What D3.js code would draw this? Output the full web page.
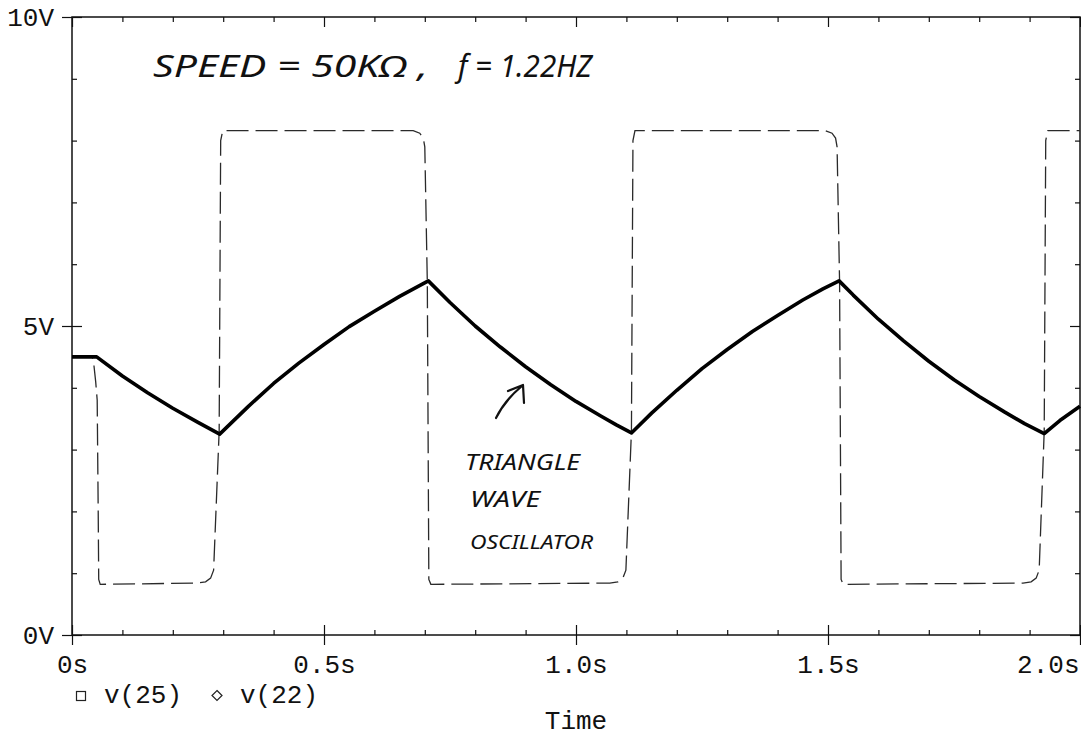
<!DOCTYPE html>
<html>
<head>
<meta charset="utf-8">
<script src="https://cdn.jsdelivr.net/npm/d3@7"></script>
<style>
    body { margin: 0; background: #fff; }
    svg { display: block; }
    .tick text, .lbl { font-family: "Liberation Mono", "DejaVu Sans Mono", monospace; font-size: 26px; fill: #111; }
    .tick line { stroke: #111; stroke-width: 1.2; }
    .hand { font-family: "Noto Sans", sans-serif; font-style: italic; fill: #111; }
</style>
</head>
<body>
<svg id="chart" width="1081" height="736"></svg>
<script>
// triangle wave (thick line)
var triTime = [0, 0.049, 0.10, 0.15, 0.20, 0.25, 0.293, 0.35, 0.40, 0.45, 0.50, 0.55, 0.60, 0.65, 0.707,
    0.75, 0.80, 0.85, 0.90, 0.95, 1.00, 1.05, 1.08, 1.110, 1.15, 1.20, 1.25, 1.30, 1.35, 1.40, 1.45, 1.49, 1.522,
    1.55, 1.60, 1.65, 1.70, 1.75, 1.80, 1.85, 1.89, 1.929, 1.96, 2.00];
var triVolt = [4.50, 4.50, 4.19, 3.92, 3.67, 3.44, 3.25, 3.70, 4.07, 4.40, 4.70, 4.99, 5.24, 5.48, 5.73,
    5.38, 5.00, 4.66, 4.34, 4.05, 3.78, 3.54, 3.40, 3.27, 3.59, 3.96, 4.31, 4.62, 4.91, 5.17, 5.42, 5.60, 5.73,
    5.50, 5.11, 4.76, 4.43, 4.13, 3.86, 3.61, 3.42, 3.26, 3.47, 3.70];

// square wave (dashed line)
var sqTime = [0, 0.040, 0.043, 0.047, 0.050, 0.052, 0.053, 0.056,
    0.249, 0.265, 0.275, 0.281, 0.292, 0.295, 0.299,
    0.677, 0.690, 0.697, 0.700, 0.705, 0.708, 0.712,
    1.067, 1.083, 1.093, 1.099, 1.110, 1.113, 1.117,
    1.495, 1.508, 1.515, 1.518, 1.523, 1.526, 1.530,
    1.887, 1.903, 1.913, 1.919, 1.929, 1.932, 1.936, 2.000];
var sqVolt = [4.50, 4.50, 4.40, 4.10, 3.80, 2.00, 0.90, 0.82,
    0.84, 0.86, 0.92, 1.05, 3.30, 8.00, 8.16,
    8.16, 8.12, 8.04, 7.90, 5.70, 0.90, 0.82,
    0.84, 0.86, 0.92, 1.05, 3.30, 8.00, 8.16,
    8.16, 8.12, 8.04, 7.90, 5.70, 0.90, 0.82,
    0.84, 0.86, 0.92, 1.05, 3.30, 8.00, 8.16, 8.16];

// ticks
var xMajor = [0, 0.5, 1.0, 1.5, 2.0];
var xLabels = ["0s", "0.5s", "1.0s", "1.5s", "2.0s"];
var xMinor = [0.1, 0.2, 0.3, 0.4, 0.6, 0.7, 0.8, 0.9, 1.1, 1.2, 1.3, 1.4, 1.6, 1.7, 1.8, 1.9];
var yMajor = [0, 5, 10];
var yLabels = ["0V", "5V", "10V"];
var yMinor = [1, 2, 3, 4, 6, 7, 8, 9];

var svg = d3.select("#chart");
var plotLeft = 72, plotRight = 1080, plotTop = 17, plotBottom = 635;

var x = d3.scaleLinear().domain([0, 2]).range([plotLeft, plotRight]);
var y = d3.scaleLinear().domain([0, 10]).range([plotBottom, plotTop]);

function noDomain(g) { g.select(".domain").remove(); }

// bottom axis: labels + outward major ticks
var gx = svg.append("g").attr("transform", "translate(0," + plotBottom + ")")
    .call(d3.axisBottom(x).tickValues(xMajor).tickSize(10)
        .tickFormat(function (d, i) { return xLabels[i]; }))
    .call(noDomain);
gx.selectAll("text").attr("y", 38).attr("dy", null);
gx.selectAll("text").filter(function (d) { return d === 2; })
    .attr("text-anchor", "end").attr("x", -1);

// inward ticks on all four sides
svg.append("g").attr("transform", "translate(0," + plotBottom + ")")
    .call(d3.axisBottom(x).tickValues(xMajor).tickSize(-10).tickFormat("")).call(noDomain);
svg.append("g").attr("transform", "translate(0," + plotBottom + ")")
    .call(d3.axisBottom(x).tickValues(xMinor).tickSize(-5).tickFormat("")).call(noDomain);
svg.append("g").attr("transform", "translate(0," + plotTop + ")")
    .call(d3.axisTop(x).tickValues(xMajor).tickSize(-10).tickFormat("")).call(noDomain);
svg.append("g").attr("transform", "translate(0," + plotTop + ")")
    .call(d3.axisTop(x).tickValues(xMinor).tickSize(-5).tickFormat("")).call(noDomain);

var gy = svg.append("g").attr("transform", "translate(" + plotLeft + ",0)")
    .call(d3.axisLeft(y).tickValues(yMajor).tickSize(10).tickPadding(8)
        .tickFormat(function (d, i) { return yLabels[i]; }))
    .call(noDomain);
svg.append("g").attr("transform", "translate(" + plotLeft + ",0)")
    .call(d3.axisLeft(y).tickValues(yMajor).tickSize(-10).tickFormat("")).call(noDomain);
svg.append("g").attr("transform", "translate(" + plotLeft + ",0)")
    .call(d3.axisLeft(y).tickValues(yMinor).tickSize(-5).tickFormat("")).call(noDomain);
svg.append("g").attr("transform", "translate(" + plotRight + ",0)")
    .call(d3.axisRight(y).tickValues(yMajor).tickSize(-10).tickFormat("")).call(noDomain);
svg.append("g").attr("transform", "translate(" + plotRight + ",0)")
    .call(d3.axisRight(y).tickValues(yMinor).tickSize(-5).tickFormat("")).call(noDomain);

// frame
svg.append("rect")
    .attr("x", plotLeft).attr("y", plotTop)
    .attr("width", plotRight - plotLeft).attr("height", plotBottom - plotTop)
    .attr("fill", "none").attr("stroke", "#111").attr("stroke-width", 1.5);

// curves
var line = d3.line()
    .x(function (d) { return x(d[0]); })
    .y(function (d) { return y(d[1]); });

var sqData = sqTime.map(function (t, i) { return [t, sqVolt[i]]; });
var triData = triTime.map(function (t, i) { return [t, triVolt[i]]; });

svg.append("path")
    .datum(sqData)
    .attr("d", line)
    .attr("fill", "none")
    .attr("stroke", "#2a2a2a")
    .attr("stroke-width", 1.3)
    .attr("stroke-dasharray", "22,7");

svg.append("path")
    .datum(triData)
    .attr("d", line)
    .attr("fill", "none")
    .attr("stroke", "#000")
    .attr("stroke-width", 3.6)
    .attr("stroke-linejoin", "round");

// legend
svg.append("rect").attr("x", 76.5).attr("y", 691.5).attr("width", 9).attr("height", 9)
    .attr("fill", "none").attr("stroke", "#222").attr("stroke-width", 1.2);
svg.append("text").attr("class", "lbl").attr("x", 104).attr("y", 703).text("v(25)");
svg.append("path").attr("d", "M217,690.5 L222,695.5 L217,700.5 L212,695.5 Z")
    .attr("fill", "none").attr("stroke", "#222").attr("stroke-width", 1.2);
svg.append("text").attr("class", "lbl").attr("x", 240).attr("y", 703).text("v(22)");

// axis title
svg.append("text").attr("class", "lbl").attr("x", 576).attr("y", 729)
    .attr("text-anchor", "middle").text("Time");

// hand written notes
svg.append("text").attr("class", "hand").attr("x", 153).attr("y", 77)
    .attr("font-size", 30).attr("textLength", 275).attr("lengthAdjust", "spacingAndGlyphs")
    .text("SPEED = 50KΩ ,");
svg.append("text").attr("class", "hand").attr("x", 458).attr("y", 77)
    .attr("font-size", 30).attr("textLength", 134).attr("lengthAdjust", "spacingAndGlyphs")
    .text("f = 1.22HZ");

svg.append("text").attr("class", "hand").attr("x", 465).attr("y", 470)
    .attr("font-size", 22).attr("textLength", 115).attr("lengthAdjust", "spacingAndGlyphs")
    .text("TRIANGLE");
svg.append("text").attr("class", "hand").attr("x", 470).attr("y", 507)
    .attr("font-size", 22).attr("textLength", 70).attr("lengthAdjust", "spacingAndGlyphs")
    .text("WAVE");
svg.append("text").attr("class", "hand").attr("x", 470).attr("y", 549)
    .attr("font-size", 20).attr("textLength", 123).attr("lengthAdjust", "spacingAndGlyphs")
    .text("OSCILLATOR");

svg.append("path").attr("d", "M496,418 Q505,400 522,386 M508,391 L523,385 L524,403")
    .attr("fill", "none").attr("stroke", "#111").attr("stroke-width", 2.2)
    .attr("stroke-linecap", "round").attr("stroke-linejoin", "round");
</script>
</body>
</html>
